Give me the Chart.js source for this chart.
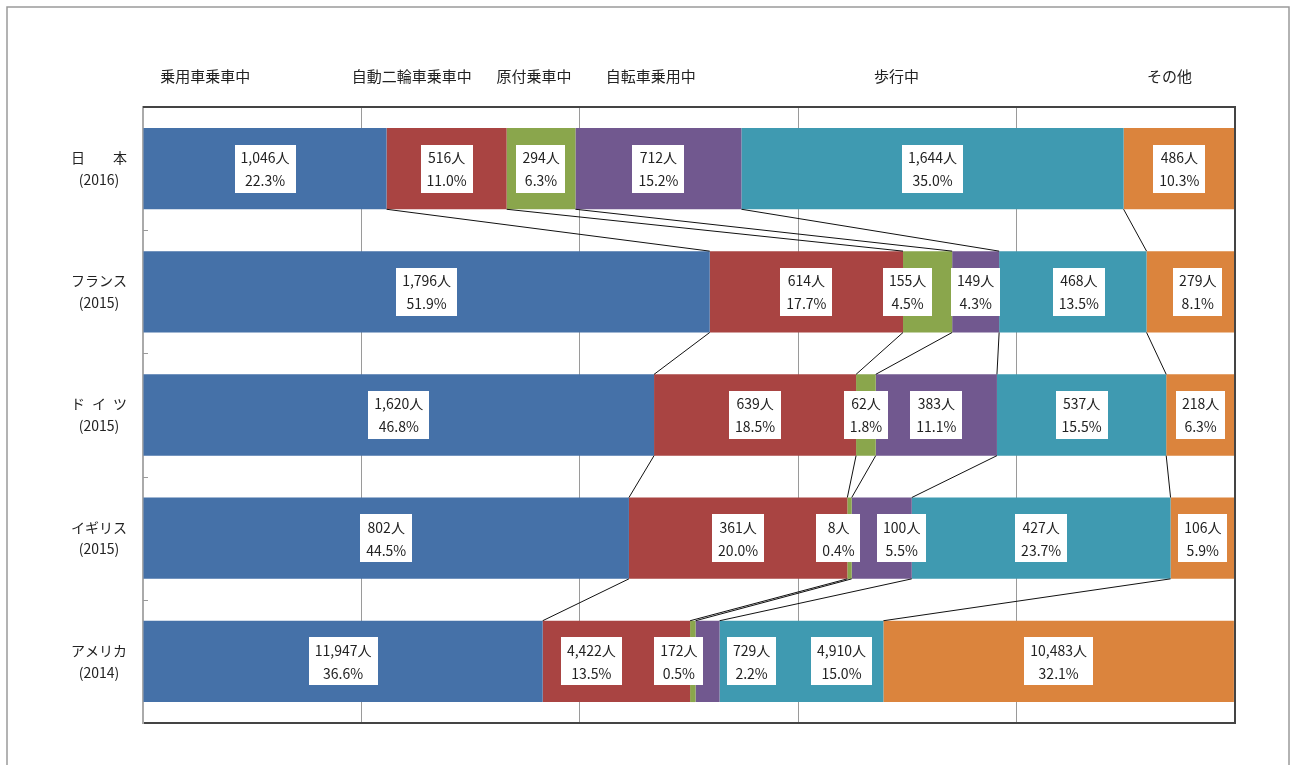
<!DOCTYPE html>
<html lang="ja">
<head>
<meta charset="utf-8">
<script src="https://cdn.jsdelivr.net/npm/chart.js@4"></script>
<style>
  html, body { margin: 0; padding: 0; background: #fff; }
  #wrap { width: 1295px; height: 765px; }
</style>
</head>
<body>
<div id="wrap"><canvas id="deathChart" width="1295" height="765"></canvas></div>
<script>
// countries (y axis labels)
const countries = [
    ["日　　本", "(2016)"],
    ["フランス", "(2015)"],
    ["ド\u2002イ\u2002ツ", "(2015)"],
    ["イギリス", "(2015)"],
    ["アメリカ", "(2014)"]
];

// categories (series)
const categories = ["乗用車乗車中", "自動二輪車乗車中", "原付乗車中", "自転車乗用中", "歩行中", "その他"];

// share (%) per category, by country
const carPct = [22.3, 51.9, 46.8, 44.5, 36.6];
const motorcyclePct = [11.0, 17.7, 18.5, 20.0, 13.5];
const mopedPct = [6.3, 4.5, 1.8, 0.4, 0.5];
const bicyclePct = [15.2, 4.3, 11.1, 5.5, 2.2];
const walkingPct = [35.0, 13.5, 15.5, 23.7, 15.0];
const otherPct = [10.3, 8.1, 6.3, 5.9, 32.1];

// deaths (persons) per category, by country
const carCount = [1046, 1796, 1620, 802, 11947];
const motorcycleCount = [516, 614, 639, 361, 4422];
const mopedCount = [294, 155, 62, 8, 172];
const bicycleCount = [712, 149, 383, 100, 729];
const walkingCount = [1644, 468, 537, 427, 4910];
const otherCount = [486, 279, 218, 106, 10483];

const pctSeries = [carPct, motorcyclePct, mopedPct, bicyclePct, walkingPct, otherPct];
const countSeries = [carCount, motorcycleCount, mopedCount, bicycleCount, walkingCount, otherCount];
const colors = ["#4571a8", "#a94442", "#8aa64c", "#71588f", "#3f9ab1", "#db843d"];

// header label positions along the x axis (%)
const headerAt = [5.7, 24.6, 35.8, 46.5, 69.0, 94.0];

// label box shifts in px, "row-series"
const labelShift = {
    "1-2": -20, "1-5": 7, "1-4": 6,
    "3-2": -11, "3-3": 20,
    "4-1": -25, "4-2": -14, "4-3": 44, "4-4": 40
};

Chart.defaults.font.family = '"Noto Sans CJK JP", "Noto Sans", sans-serif';
Chart.defaults.color = "#222";

// frame, plot border, header texts, series lines, value boxes
const decorPlugin = {
    id: "decor",
    beforeDraw(chart) {
        const ctx = chart.ctx;
        ctx.save();
        ctx.fillStyle = "#fff";
        ctx.fillRect(0, 0, chart.width, chart.height);
        ctx.strokeStyle = "#9a9a9a";
        ctx.lineWidth = 1.5;
        ctx.beginPath();
        ctx.moveTo(7, 765);
        ctx.lineTo(7, 7);
        ctx.lineTo(1289, 7);
        ctx.lineTo(1289, 765);
        ctx.stroke();
        ctx.restore();
    },
    afterDatasetsDraw(chart) {
        const ctx = chart.ctx;
        const area = chart.chartArea;
        const xScale = chart.scales.x;
        const yScale = chart.scales.y;
        ctx.save();

        // series lines between bars
        ctx.strokeStyle = "#111";
        ctx.lineWidth = 1;
        for (let r = 0; r < countries.length - 1; r++) {
            for (let s = 0; s < categories.length - 1; s++) {
                const a = chart.getDatasetMeta(s).data[r];
                const b = chart.getDatasetMeta(s).data[r + 1];
                ctx.beginPath();
                ctx.moveTo(a.x, a.y + a.height / 2);
                ctx.lineTo(b.x, b.y - b.height / 2);
                ctx.stroke();
            }
        }

        // small ticks on the left axis
        ctx.strokeStyle = "#9a9a9a";
        for (let r = 0; r < countries.length - 1; r++) {
            const yb = Math.round((yScale.getPixelForValue(r) + yScale.getPixelForValue(r + 1)) / 2) + 0.5;
            ctx.beginPath();
            ctx.moveTo(area.left, yb);
            ctx.lineTo(area.left + 5, yb);
            ctx.stroke();
        }

        // plot border top/right
        ctx.strokeStyle = "#444";
        ctx.lineWidth = 2;
        ctx.beginPath();
        ctx.moveTo(area.left, area.top);
        ctx.lineTo(area.right, area.top);
        ctx.lineTo(area.right, area.bottom);
        ctx.stroke();

        // value boxes
        ctx.font = '14px "Noto Sans CJK JP", sans-serif';
        ctx.textAlign = "center";
        ctx.textBaseline = "middle";
        for (let s = 0; s < categories.length; s++) {
            const meta = chart.getDatasetMeta(s);
            meta.data.forEach((el, r) => {
                const line1 = countSeries[s][r].toLocaleString("en-US") + "人";
                const line2 = pctSeries[s][r].toFixed(1) + "%";
                const w = Math.max(ctx.measureText(line1).width, ctx.measureText(line2).width) + 12;
                const h = 48;
                const cx = (Math.max(el.base, xScale.left) + Math.min(el.x, xScale.right)) / 2 + (labelShift[r + "-" + s] || 0);
                ctx.fillStyle = "#fff";
                ctx.fillRect(Math.round(cx - w / 2), Math.round(el.y - h / 2), Math.round(w), h);
                ctx.fillStyle = "#222";
                ctx.fillText(line1, cx, el.y - 11);
                ctx.fillText(line2, cx, el.y + 12);
            });
        }

        // category headers
        ctx.font = '15px "Noto Sans CJK JP", sans-serif';
        ctx.fillStyle = "#222";
        categories.forEach((c, i) => {
            ctx.fillText(c, xScale.getPixelForValue(headerAt[i]), 76);
        });
        ctx.restore();
    }
};

const datasets = categories.map((name, i) => ({
    label: name,
    data: pctSeries[i],
    backgroundColor: colors[i],
    borderWidth: 0,
    barPercentage: 0.66,
    categoryPercentage: 1
}));

new Chart(document.getElementById("deathChart"), {
    type: "bar",
    data: { labels: countries, datasets },
    options: {
        indexAxis: "y",
        responsive: false,
        animation: false,
        layout: { padding: { left: 0, top: 107, right: 60, bottom: 42 } },
        plugins: {
            legend: { display: false },
            tooltip: { enabled: false }
        },
        scales: {
            x: {
                stacked: true,
                min: 0,
                max: 100,
                ticks: { display: false, stepSize: 20 },
                grid: { color: "#9a9a9a", lineWidth: 1, drawTicks: false },
                border: { display: true, color: "#444", width: 2 },
                afterFit: s => { s.height = 0; }
            },
            y: {
                stacked: true,
                grid: { display: false, drawTicks: false },
                border: { display: true, color: "#aaa", width: 2 },
                ticks: {
                    crossAlign: "center",
                    padding: 16,
                    color: "#222",
                    font: { size: 14, lineHeight: 1.55 }
                },
                afterFit: s => { s.width = 143; }
            }
        }
    },
    plugins: [decorPlugin]
});
</script>
</body>
</html>
